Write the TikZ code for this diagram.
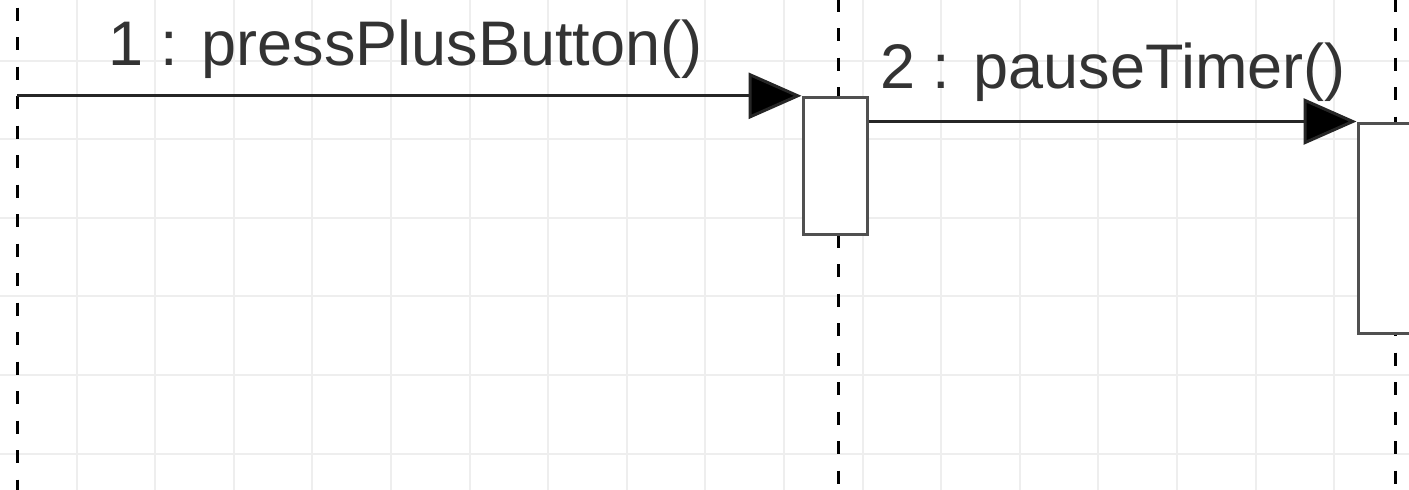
\documentclass[tikz,border=0pt]{standalone}
\usepackage{fontspec}
\setmainfont{Liberation Sans}
\usepackage{xcolor}
\usepackage{tikz}
\usetikzlibrary{arrows.meta, positioning}
\definecolor{gridgray}{HTML}{EEEEEE}
\definecolor{boxgray}{HTML}{505050}
\definecolor{textgray}{HTML}{333333}
\tikzstyle{gridline} = [gridgray, line width=2pt]
\tikzstyle{lifeline} = [black, line width=3pt, dash pattern=on 13pt off 16.5pt]
\tikzstyle{activation} = [rectangle, minimum width=64pt, minimum height=137pt, inner sep=0pt, draw=boxgray, line width=3pt, fill=white]
\tikzstyle{message} = [line width=3pt, draw=black!85, -{Triangle[length=53pt, width=46pt, fill=black]}]
\tikzstyle{msglabel} = [anchor=base west, inner sep=0pt, text=textgray, font=\fontsize{63}{63}\selectfont]

\begin{document}
\begin{tikzpicture}[x=1pt, y=-1pt]

\fill[white] (0,0) rectangle (1409,490);
\useasboundingbox (0,0) rectangle (1409,490);

% grid
\foreach \i in {0,...,18} \draw[gridline] (-2+78.6*\i,0) -- (-2+78.6*\i,490);
\foreach \j in {0,...,6} \draw[gridline] (0,-18+78.6*\j) -- (1409,-18+78.6*\j);

% lifelines
\coordinate (life1top) at (17,7.5);
\coordinate (life1bot) at (17,495);
\coordinate (life2top) at (838,-1.5);
\coordinate (life2bot) at (838,495);
\coordinate (life3top) at (1395,-1.5);
\coordinate (life3bot) at (1395,495);
\draw[lifeline] (life1top) -- (life1bot);
\draw[lifeline] (life2top) -- (life2bot);
\draw[lifeline] (life3top) -- (life3bot);

% activations
\node (act1) [activation] at (835,165.8) {};
\node (act2) [activation, minimum height=210pt] at (1390,228) {};

% messages
\draw[message] (life1top |- act1.north west) -- (act1.north west);
\draw[message] (act1.east |- act2.north west) -- (act2.north west);

\node (lbl1) [msglabel] at (108,65) {1 : pressPlusButton()};
\node (lbl2) [msglabel] at (880,88) {2 : pauseTimer()};

\end{tikzpicture}
\end{document}
